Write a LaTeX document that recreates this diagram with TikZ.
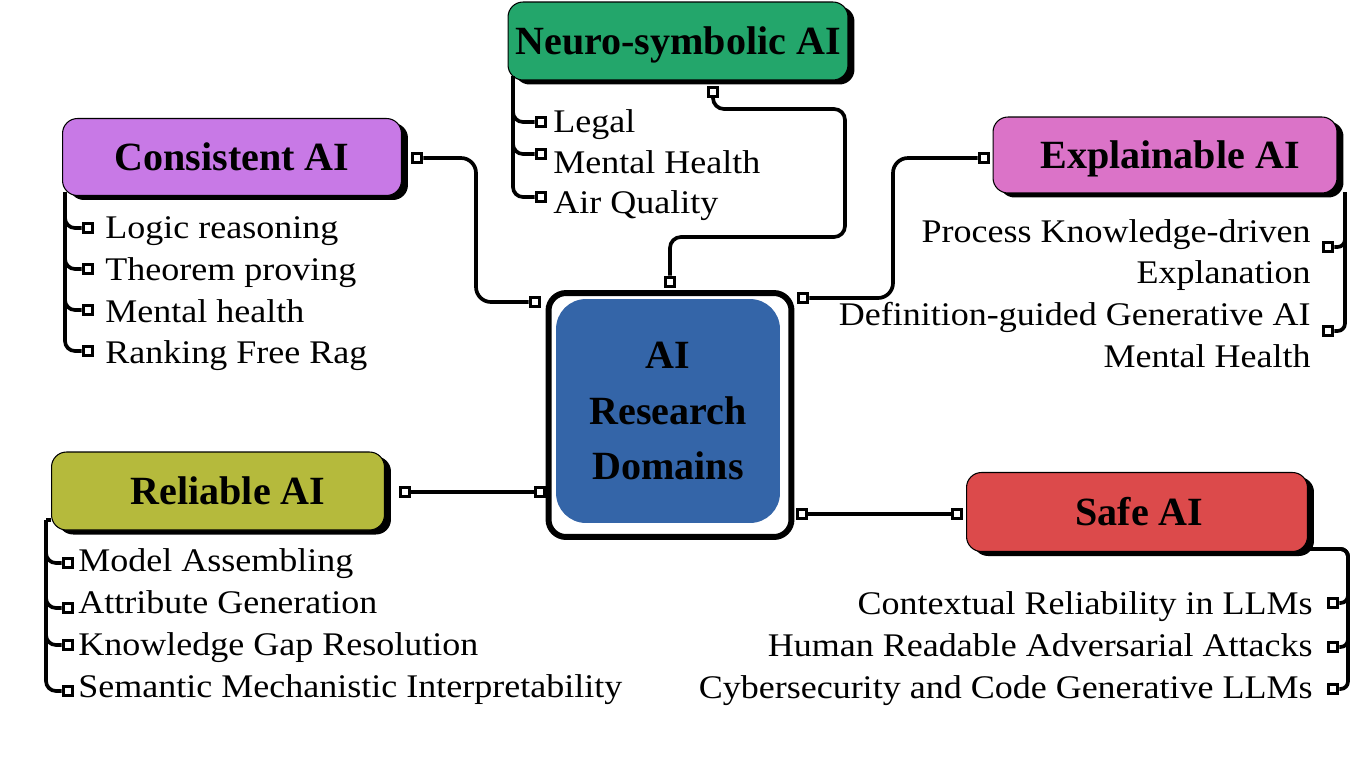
\documentclass[tikz,border=0pt]{standalone}
\usepackage{fontspec}
\setmainfont{Liberation Serif}[FakeStretch=1.09]
\newfontfamily\headfont{Liberation Serif}
\usepackage{xcolor}
\usepackage{tikz}
\usetikzlibrary{calc, shadows, positioning}

\definecolor{neurogreen}{HTML}{23A66B}
\definecolor{conspurple}{HTML}{C879E6}
\definecolor{explpink}{HTML}{DB73C8}
\definecolor{reliolive}{HTML}{B5BA3C}
\definecolor{safered}{HTML}{DC4A4B}
\definecolor{coreblue}{HTML}{3465A8}

\begin{document}
\begin{tikzpicture}[x=0.02cm, y=-0.02cm,
    domainbox/.style={draw=black, line width=0.6pt, rounded corners=0.3cm, inner sep=0pt,
        text height=15pt, text depth=0pt,
        font=\headfont\bfseries\fontsize{22.8}{27}\selectfont,
        drop shadow={fill=black, opacity=1, shadow xshift=0.13cm, shadow yshift=-0.09cm}},
    port/.style={draw, fill=white, line width=1.8pt, minimum size=0.19cm, inner sep=0pt},
    wire/.style={line width=2.1pt, rounded corners=0.3cm},
    item/.style={inner sep=0pt, font=\fontsize{18.8}{22}\selectfont}]
    \useasboundingbox (0,0) rectangle (1366,768);

    % Central node
    \node[draw, line width=3.4pt, rounded corners=0.35cm, minimum width=4.86cm, minimum height=4.88cm] (frame) at (670,415) {};
    \node[fill=coreblue, rounded corners=0.6cm, minimum width=4.48cm, minimum height=4.48cm,
        align=center, font=\headfont\bfseries\fontsize{22.8}{31.5}\selectfont] (core) at (668,411) {AI\\Research\\Domains};

    % Domain boxes
    \node[domainbox, fill=neurogreen, minimum width=6.8cm, minimum height=1.56cm] (neuro) at (678,41) {Neuro-symbolic AI};
    \node[domainbox, fill=conspurple, minimum width=6.78cm, minimum height=1.54cm] (cons) at (232,157) {Consistent AI};
    \node[domainbox, fill=explpink, minimum width=6.88cm, minimum height=1.52cm] (expl) at (1165,155) {\hspace{0.2cm}Explainable AI};
    \node[domainbox, fill=reliolive, minimum width=6.66cm, minimum height=1.56cm] (reli) at (218,491) {\hspace{0.4cm}Reliable AI};
    \node[domainbox, fill=safered, minimum width=6.82cm, minimum height=1.58cm] (safe) at (1137,512) {\hspace{0.1cm}Safe AI};

    % Ports
    \node[port] (ptop) at (670,282) {};
    \node[port] (pleft) at (535,302) {};
    \node[port] (plow) at (540,492) {};
    \node[port] (pright) at (803,298) {};
    \node[port] (prlow) at (802,514) {};
    \node[port] (pneuro) at (713,92) {};
    \node[port] (pcons) at (417,158) {};
    \node[port] (pexpl) at (984,158) {};
    \node[port] (preli) at (405,492) {};
    \node[port] (psafe) at (957,514) {};

    % Connectors to the centre
    \draw[wire, rounded corners=0.22cm] (pneuro) |- (845,109) |- (670,237) -- (ptop);
    \draw[wire] (pcons) -| (476,302) -- (pleft);
    \draw[wire] (pexpl) -| (893,298) -- (pright);
    \draw[wire] (preli) -- (plow);
    \draw[wire] (psafe) -- (prlow);

    % Neuro-symbolic AI items
    \coordinate (nrail) at (513,76);
    \foreach \t/\y/\s [count=\i] in {Legal/132/122, Mental Health/173/154, Air Quality/213/197} {
        \node[item, anchor=base west] (ni\i) at (553,\y) {\t};
        \node[port] (ns\i) at (541,\s) {};
        \draw[wire, rounded corners=0.2cm] (nrail) |- (ns\i);
    }

    % Consistent AI items
    \coordinate (crail) at (65,192);
    \foreach \t/\y/\s [count=\i] in {Logic reasoning/238/228, Theorem proving/280/269, Mental health/322/310, Ranking Free Rag/363/351} {
        \node[item, anchor=base west] (ci\i) at (105,\y) {\t};
        \node[port] (cs\i) at (88,\s) {};
        \draw[wire, rounded corners=0.2cm] (crail) |- (cs\i);
    }

    % Explainable AI items
    \coordinate (erail) at (1345,192);
    \foreach \t/\y [count=\i] in {Process Knowledge-driven/242, Explanation/283, Definition-guided Generative AI/325, Mental Health/367} {
        \node[item, anchor=base east] (ei\i) at (1311,\y) {\t};
    }
    \node[port] (es1) at (1328,247) {};
    \node[port] (es2) at (1328,331) {};
    \draw[wire, rounded corners=0.15cm] (erail) |- (es1);
    \draw[wire, rounded corners=0.15cm] (erail) |- (es2);

    % Reliable AI items
    \coordinate (rrail) at (46,520);
    \draw[wire, rounded corners=0] (reli.west |- rrail) -- (rrail);
    \foreach \t/\y/\s [count=\i] in {Model Assembling/571/563, Attribute Generation/613/608, Knowledge Gap Resolution/655/645, Semantic Mechanistic Interpretability/697/691} {
        \node[item, anchor=base west] (ri\i) at (78,\y) {\t};
        \node[port] (rs\i) at (68,\s) {};
        \draw[wire, rounded corners=0.2cm] (rrail) |- (rs\i);
    }

    % Safe AI items
    \coordinate (srail) at (1348,549);
    \foreach \t/\y/\s [count=\i] in {Contextual Reliability in LLMs/614/603, Human Readable Adversarial Attacks/656/647, Cybersecurity and Code Generative LLMs/698/689} {
        \node[item, anchor=base east] (si\i) at (1313,\y) {\t};
        \node[port] (ss\i) at (1333,\s) {};
        \draw[wire, rounded corners=0.15cm] (safe.south east |- srail) -| (srail |- ss\i) -- (ss\i);
    }
\end{tikzpicture}
\end{document}
